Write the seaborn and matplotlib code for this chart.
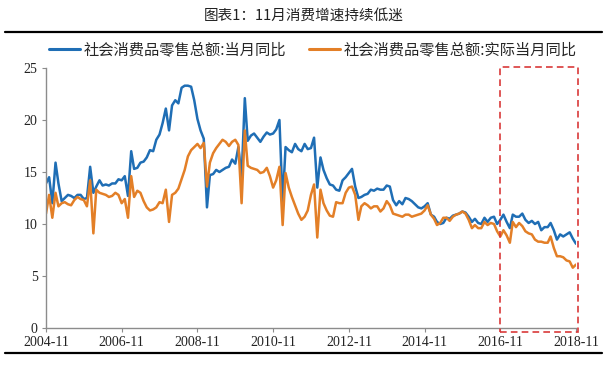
import numpy as np
import pandas as pd
import matplotlib
matplotlib.use("Agg")
import matplotlib.pyplot as plt
import matplotlib.dates as mdates
from matplotlib.patches import Rectangle
from matplotlib.lines import Line2D
import seaborn as sns

# ---------------- data ----------------
start_month = "2004-11"
end_month = "2018-11"
series_names = ["社会消费品零售总额:当月同比", "社会消费品零售总额:实际当月同比"]

nominal_yoy = [
    13.9, 14.5,
    12.0, 15.9, 13.9, 12.2, 12.5, 12.8, 12.7, 12.5, 12.8, 12.8, 12.4, 12.5,
    15.5, 13.0, 13.6, 14.2, 13.7, 13.8, 13.7, 13.9, 13.9, 14.3, 14.2, 14.6,
    12.7, 17.0, 15.3, 15.4, 15.9, 16.0, 16.4, 17.1, 17.0, 18.1, 18.6, 19.7,
    21.1, 19.0, 21.4, 21.9, 21.6, 23.1, 23.3, 23.3, 23.2, 21.9, 20.1, 19.0,
    18.2, 11.6, 14.7, 14.8, 15.2, 15.0, 15.2, 15.4, 15.5, 16.2, 15.8, 17.4,
    14.5, 22.1, 18.0, 18.5, 18.7, 18.3, 17.9, 18.4, 18.8, 18.6, 18.7, 19.1,
    20.0, 12.0, 17.4, 17.1, 16.9, 17.7, 17.2, 17.0, 17.7, 17.2, 17.3, 18.3,
    13.5, 16.4, 15.2, 14.4, 13.8, 13.7, 13.3, 13.2, 14.2, 14.5, 14.9, 15.3,
    13.6, 12.5, 12.6, 12.8, 12.9, 13.3, 13.2, 13.4, 13.3, 13.3, 13.7, 13.6,
    12.3, 11.8, 12.2, 11.9, 12.5, 12.4, 12.2, 11.9, 11.6, 11.5, 11.7, 12.0,
    10.9, 10.7, 10.2, 10.0, 10.1, 10.6, 10.5, 10.8, 10.9, 11.0, 11.2, 11.1,
    10.7, 10.2, 10.5, 10.1, 10.0, 10.6, 10.2, 10.6, 10.7, 10.0, 10.4, 10.9,
    10.2, 9.6, 10.9, 10.7, 10.7, 11.0, 10.4, 10.1, 10.3, 10.0, 10.2, 9.4,
    9.7, 9.7, 10.1, 9.4, 8.5, 9.0, 8.8, 9.0, 9.2, 8.6, 8.1,
]

real_yoy = [
    11.0, 12.8,
    10.6, 13.0, 11.7, 12.0, 12.1, 11.9, 11.8, 12.3, 12.6, 12.4, 12.3, 11.7,
    14.2, 9.1, 13.3, 13.0, 12.9, 12.8, 12.6, 12.7, 13.0, 12.8, 12.0, 12.4,
    10.6, 14.6, 12.6, 13.2, 13.0, 12.2, 11.6, 11.3, 11.4, 11.6, 12.1, 12.0,
    13.3, 10.2, 12.8, 13.0, 13.4, 14.3, 15.2, 16.5, 17.1, 17.4, 17.7, 17.3,
    17.8, 13.6, 15.9, 16.8, 17.3, 17.7, 18.1, 17.9, 17.5, 17.9, 18.1, 17.6,
    12.0, 19.0, 15.6, 15.4, 15.3, 15.2, 14.9, 15.0, 15.4, 14.6, 13.5, 14.2,
    15.5, 9.9, 14.9, 13.5, 12.6, 11.8, 11.0, 10.4, 10.7, 11.3, 12.8, 13.8,
    8.7, 13.3, 12.0, 11.3, 10.8, 10.7, 12.1, 12.0, 12.0, 13.0, 13.5, 13.6,
    12.8, 10.4, 11.7, 12.0, 11.8, 11.5, 11.7, 11.7, 11.2, 11.5, 12.2, 11.8,
    11.0, 10.9, 10.8, 10.7, 10.9, 10.9, 10.7, 10.8, 10.9, 11.0, 11.3, 11.8,
    10.9, 10.5, 9.9, 10.1, 10.6, 10.6, 10.3, 10.7, 10.9, 11.0, 11.2, 11.0,
    10.4, 9.6, 9.9, 9.6, 9.6, 10.2, 9.9, 10.1, 10.0, 9.3, 8.8, 9.4,
    8.9, 8.2, 10.2, 9.7, 10.1, 9.8, 9.3, 9.1, 9.0, 8.5, 8.3, 8.3,
    8.2, 8.2, 8.8, 7.7, 6.9, 6.9, 6.8, 6.5, 6.4, 5.8, 6.1,
]

x_tick_labels = ["2004-11", "2006-11", "2008-11", "2010-11", "2012-11",
                 "2014-11", "2016-11", "2018-11"]
y_ticks = [0, 5, 10, 15, 20, 25]
highlight_start = "2016-11"
highlight_end = "2018-11"

# ---------------- build frame ----------------
months = pd.date_range(start_month, end_month, freq="MS")
df = pd.concat([
    pd.DataFrame({"month": months, "value": nominal_yoy, "series": series_names[0]}),
    pd.DataFrame({"month": months, "value": real_yoy, "series": series_names[1]}),
])

sns.set_theme(style="white")
plt.rcParams["font.family"] = ["Liberation Serif", "Noto Sans CJK SC"]
plt.rcParams["axes.unicode_minus"] = False
cjk = ["Noto Sans CJK SC", "DejaVu Sans"]

W, H = 607, 365
fig = plt.figure(figsize=(W / 100, H / 100), dpi=100)
ax = fig.add_axes([46 / W, 1 - 328 / H, (576 - 46) / W, (328 - 68) / H])

colors = ["#1f6eb5", "#e37f27"]
sns.lineplot(data=df, x="month", y="value", hue="series", palette=colors,
             linewidth=1.8, ax=ax, legend=False)

ax.set_xlim(months[0], months[-1])
ax.set_ylim(0, 25)
ax.set_yticks(y_ticks)
ax.set_yticklabels([str(v) for v in y_ticks])
xt = pd.to_datetime(x_tick_labels)
ax.set_xticks(xt)
ax.set_xticklabels(x_tick_labels)
ax.set_xlabel("")
ax.set_ylabel("")

for s in ["top", "right"]:
    ax.spines[s].set_visible(False)
for s in ["left", "bottom"]:
    ax.spines[s].set_color("#8c8c8c")
    ax.spines[s].set_linewidth(1.0)
ax.tick_params(axis="both", which="both", direction="out", length=3,
               width=0.8, color="#8c8c8c", labelsize=10, labelcolor="#222222",
               left=True, bottom=True, pad=3)

# highlighted region (red dashed box)
x0 = mdates.date2num(pd.Timestamp(highlight_start))
x1 = mdates.date2num(pd.Timestamp(highlight_end))
rect = Rectangle((x0, -0.4), (x1 - x0) + 20, 25.5, fill=False,
                 edgecolor="#d9393a", linewidth=1.2,
                 linestyle=(0, (4, 2.5)), clip_on=False, zorder=5)
ax.add_patch(rect)

# legend
handles = [Line2D([], [], color=c, linewidth=2.2) for c in colors]
fig.legend(handles, series_names, loc="center", bbox_to_anchor=(313 / W, 1 - 50 / H),
           ncol=2, frameon=False, prop={"family": cjk, "size": 11},
           handlelength=2.0, handletextpad=0.25, columnspacing=1.5)

# title and rules
fig.text(0.5, 1 - 16 / H, "图表1：11月消费增速持续低迷", ha="center", va="center",
         fontsize=10.5, family=cjk, color="#222222")
fig.add_artist(Line2D([5 / W, 602 / W], [1 - 32 / H, 1 - 32 / H], color="black", linewidth=1.6))
fig.add_artist(Line2D([5 / W, 602 / W], [1 - 353 / H, 1 - 353 / H], color="black", linewidth=1.6))

fig.savefig("out.png", dpi=100, facecolor="white")
